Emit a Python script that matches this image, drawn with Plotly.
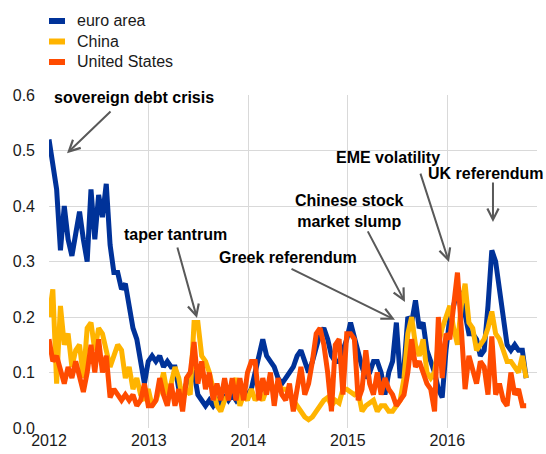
import pandas as pd
import plotly.graph_objects as go

dates = pd.date_range("2012-01-01", periods=126, freq="14D")

euro_area = [
    0.52, 0.47, 0.43, 0.32, 0.40, 0.34, 0.31, 0.35, 0.39, 0.34,
    0.30, 0.43, 0.34, 0.42, 0.38, 0.44, 0.33, 0.28, 0.28, 0.25,
    0.26, 0.22, 0.18, 0.16, 0.12, 0.08, 0.12, 0.13, 0.12, 0.13,
    0.11, 0.12, 0.11, 0.11, 0.07, 0.06, 0.08, 0.10, 0.10, 0.06,
    0.05, 0.04, 0.05, 0.04, 0.05, 0.04, 0.06, 0.05, 0.06, 0.05,
    0.06, 0.06, 0.06, 0.07, 0.10, 0.12, 0.16, 0.13, 0.12, 0.11,
    0.09, 0.08, 0.09, 0.10, 0.11, 0.13, 0.14, 0.12, 0.10, 0.12,
    0.15, 0.17, 0.18, 0.16, 0.13, 0.12, 0.12, 0.14, 0.16, 0.19,
    0.16, 0.13, 0.11, 0.09, 0.10, 0.12, 0.12, 0.10, 0.06, 0.10,
    0.12, 0.19, 0.09, 0.11, 0.20, 0.19, 0.23, 0.18, 0.19, 0.14,
    0.12, 0.10, 0.07, 0.055, 0.14, 0.20, 0.22, 0.25, 0.24, 0.21,
    0.17, 0.17, 0.16, 0.13, 0.14, 0.22, 0.32, 0.30, 0.25, 0.21,
    0.15, 0.14, 0.15, 0.14, 0.14, 0.09,
]

china = [
    0.20, 0.25, 0.08, 0.22, 0.15, 0.17, 0.11, 0.14, 0.15, 0.09,
    0.18, 0.19, 0.14, 0.18, 0.17, 0.14, 0.11, 0.13, 0.15, 0.14,
    0.09, 0.11, 0.07, 0.09, 0.06, 0.05, 0.07, 0.04, 0.05, 0.07,
    0.10, 0.06, 0.08, 0.11, 0.09, 0.05, 0.07, 0.06, 0.19, 0.19,
    0.13, 0.12, 0.10, 0.07, 0.04, 0.03, 0.05, 0.06, 0.07, 0.09,
    0.04, 0.06, 0.05, 0.07, 0.05, 0.06, 0.05, 0.07, 0.075, 0.07,
    0.08, 0.07, 0.07, 0.06, 0.05, 0.04, 0.03, 0.02, 0.015, 0.02,
    0.03, 0.04, 0.05, 0.055, 0.04, 0.05, 0.045, 0.07, 0.07, 0.065,
    0.06, 0.065, 0.03, 0.04, 0.045, 0.05, 0.03, 0.04, 0.04, 0.03,
    0.03, 0.04, 0.05, 0.09, 0.17, 0.20, 0.15, 0.13, 0.16, 0.10,
    0.09, 0.10, 0.15, 0.18, 0.20, 0.22, 0.18, 0.15, 0.22, 0.26,
    0.19, 0.18, 0.14, 0.15, 0.16, 0.18, 0.21, 0.17, 0.16, 0.14,
    0.12, 0.12, 0.11, 0.10, 0.13, 0.09,
]

united_states = [
    0.16, 0.12, 0.13, 0.10, 0.08, 0.11, 0.09, 0.12, 0.09, 0.065,
    0.10, 0.15, 0.10, 0.16, 0.10, 0.13, 0.055, 0.07, 0.06, 0.05,
    0.06, 0.05, 0.06, 0.04, 0.05, 0.08, 0.04, 0.04, 0.05, 0.09,
    0.06, 0.04, 0.08, 0.04, 0.07, 0.03, 0.09, 0.10, 0.155, 0.08,
    0.12, 0.07, 0.10, 0.05, 0.08, 0.05, 0.09, 0.05, 0.09, 0.05,
    0.09, 0.05, 0.10, 0.12, 0.12, 0.05, 0.09, 0.06, 0.10, 0.04,
    0.09, 0.06, 0.05, 0.08, 0.03, 0.07, 0.11, 0.06, 0.08, 0.12,
    0.17, 0.18, 0.15, 0.10, 0.03, 0.15, 0.16, 0.06, 0.17, 0.17,
    0.16, 0.05, 0.07, 0.14, 0.08, 0.06, 0.10, 0.06, 0.09, 0.07,
    0.06, 0.04, 0.05, 0.06, 0.10, 0.16, 0.11, 0.12, 0.10, 0.08,
    0.07, 0.03, 0.20, 0.09, 0.17, 0.16, 0.22, 0.28, 0.18, 0.07,
    0.13, 0.10, 0.08, 0.12, 0.11, 0.06, 0.165, 0.06, 0.08, 0.05,
    0.04, 0.10, 0.06, 0.07, 0.04, 0.04,
]

series_names = ["euro area", "China", "United States"]
series_colors = ["#003299", "#FFB400", "#FF4B00"]
y_tick_vals = [0.0, 0.1, 0.2, 0.3, 0.4, 0.5, 0.6]
y_tick_text = ["0.0", "0.1", "0.2", "0.3", "0.4", "0.5", "0.6"]

# annotations: (text, text x, text y, arrow tail x, tail y, arrow tip x, tip y) in (year fraction, value)
events = [
    ("sovereign debt crisis", 2012.853, 0.596, 2012.633, 0.573, 2012.181, 0.495),
    ("taper tantrum", 2013.27, 0.348, 2013.285, 0.328, 2013.486, 0.198),
    ("Greek referendum", 2014.40, 0.308, 2014.42, 0.288, 2015.474, 0.195),
    ("Chinese stock<br>market slump", 2015.022, 0.391, 2015.193, 0.357, 2015.574, 0.227),
    ("EME volatility", 2015.404, 0.488, 2015.725, 0.461, 2016.016, 0.299),
    ("UK referendum", 2016.39, 0.459, 2016.458, 0.445, 2016.458, 0.371),
]

FONT = "Arial, Liberation Sans, sans-serif"

# plot area geometry in pixels (for the hand-made legend in paper coordinates)
PLOT_L, PLOT_R, PLOT_T, PLOT_B = 49, 537, 95, 428


def yr(f):
    return pd.Timestamp("2012-01-01") + pd.Timedelta(days=(f - 2012) * 365.25)


def px_to_paper_x(px):
    return (px - PLOT_L) / (PLOT_R - PLOT_L)


def px_to_paper_y(py):
    return (PLOT_B - py) / (PLOT_B - PLOT_T)


fig = go.Figure()
for name, vals, col in zip(series_names, [euro_area, china, united_states], series_colors):
    fig.add_trace(go.Scatter(x=dates, y=vals, name=name, mode="lines",
                             line=dict(color=col, width=5), showlegend=False))

# legend (short thick colour bars + labels, as in the reference)
for k, (name, col) in enumerate(zip(series_names, series_colors)):
    cy = 21 + 20.5 * k
    fig.add_shape(type="rect", xref="paper", yref="paper",
                  x0=px_to_paper_x(49), x1=px_to_paper_x(65),
                  y0=px_to_paper_y(cy + 3), y1=px_to_paper_y(cy - 3),
                  fillcolor=col, line=dict(width=0), layer="above")
    fig.add_annotation(xref="paper", yref="paper", x=px_to_paper_x(75), y=px_to_paper_y(cy),
                       text=name, showarrow=False, xanchor="left", yanchor="middle",
                       font=dict(family=FONT, size=16, color="#1a1a1a"))

for text, tx, ty, ax, ay, hx, hy in events:
    fig.add_annotation(x=yr(tx), y=ty, text="<b>" + text + "</b>", showarrow=False,
                       font=dict(family=FONT, size=16, color="#000000"),
                       xanchor="center", yanchor="middle")
    fig.add_annotation(x=yr(hx), y=hy, ax=yr(ax), ay=ay, axref="x", ayref="y",
                       text="", showarrow=True, arrowhead=5, arrowsize=1.1,
                       arrowwidth=2, arrowcolor="#595959")

fig.update_layout(
    width=546, height=454,
    margin=dict(l=PLOT_L, r=546 - PLOT_R, t=PLOT_T, b=454 - PLOT_B, autoexpand=False),
    paper_bgcolor="white", plot_bgcolor="white",
    font=dict(family=FONT, size=16, color="#1a1a1a"),
    showlegend=False,
    xaxis=dict(range=[yr(2012.0), yr(2016.9)], type="date", tick0="2012-01-01",
               dtick="M12", tickformat="%Y", showgrid=True, gridcolor="#d9d9d9",
               gridwidth=1, zeroline=False, showline=False, ticks="", ticklabelstandoff=1),
    yaxis=dict(range=[0, 0.6], tickvals=y_tick_vals, ticktext=y_tick_text,
               showgrid=True, gridcolor="#d9d9d9", gridwidth=1, zeroline=False,
               showline=False, ticks="", ticklabelstandoff=13),
)

fig.write_html("out.html", config={"displayModeBar": False},
               post_script="document.body.style.margin='0px';")
